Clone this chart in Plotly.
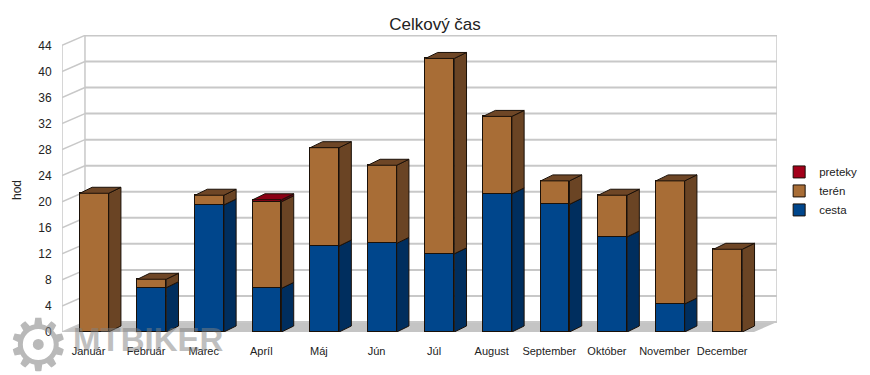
import plotly.graph_objects as go

months = ["Január", "Február", "Marec", "Apríl", "Máj", "Jún", "Júl",
          "August", "September", "Október", "November", "December"]
cesta = [0, 6.8, 19.5, 6.7, 13.2, 13.6, 12.0, 21.2, 19.6, 14.6, 4.3, 0]
teren = [21.3, 1.3, 1.5, 13.3, 15.1, 12.0, 30.0, 11.9, 3.6, 6.4, 18.9, 12.7]
preteky = [0, 0, 0, 0.3, 0, 0, 0, 0, 0, 0, 0, 0]
y_ticks = [0, 4, 8, 12, 16, 20, 24, 28, 32, 36, 40, 44]

series = [
    ("cesta", cesta, "#00468c", "#002e5e", "#003a72"),
    ("terén", teren, "#a86d36", "#6a4424", "#6e4626"),
    ("preteky", preteky, "#a3001a", "#6e0010", "#8a0014"),
]

# geometry (data units)
BAR_SHIFT = 0.06
BAR_W = 0.5
SDX, SDY = 0.213, 0.92       # bar depth
DX, DY = 0.399, 1.535        # wall depth
XMIN, XMAX = -0.5, 11.913
YMAX = 45.6

fig = go.Figure()

xs = [i + BAR_SHIFT for i in range(len(months))]
for name, vals, col, _, _ in series:
    fig.add_trace(go.Bar(
        x=xs, y=vals, name=name, width=BAR_W,
        marker=dict(color=col, line=dict(color="#1a1008", width=1)),
    ))

# side and top faces
base = [0.0] * len(months)
tops = [c + t + p for c, t, p in zip(cesta, teren, preteky)]
for name, vals, col, side_col, top_col in series:
    sx, sy, tx, ty = [], [], [], []
    for i, v in enumerate(vals):
        if v <= 0:
            continue
        b = base[i]
        t = b + v
        x0 = xs[i] - BAR_W / 2
        x1 = xs[i] + BAR_W / 2
        sx += [x1, x1 + SDX, x1 + SDX, x1, x1, None]
        sy += [b, b + SDY, t + SDY, t, b, None]
        if abs(t - tops[i]) < 1e-9:
            tx += [x0, x0 + SDX, x1 + SDX, x1, x0, None]
            ty += [t, t + SDY, t + SDY, t, t, None]
        base[i] = t
    fig.add_trace(go.Scatter(x=sx, y=sy, mode="lines", fill="toself",
                             fillcolor=side_col, line=dict(color="#1a1008", width=1),
                             showlegend=False, hoverinfo="skip"))
    if tx:
        fig.add_trace(go.Scatter(x=tx, y=ty, mode="lines", fill="toself",
                                 fillcolor=top_col, line=dict(color="#1a1008", width=1),
                                 showlegend=False, hoverinfo="skip"))

shapes = []
grid_col = "#c8c8c8"
# floor
shapes.append(dict(type="path", xref="x", yref="y", layer="below",
                   path=f"M {XMIN},0 L {XMAX - DX},0 L {XMAX},{DY} L {XMIN + DX},{DY} Z",
                   fillcolor="#c4c4c4", line=dict(width=0)))
for v in y_ticks:
    shapes.append(dict(type="line", xref="x", yref="y", layer="below",
                       x0=XMIN + DX, x1=XMAX, y0=v + DY, y1=v + DY,
                       line=dict(color=grid_col, width=2)))
    shapes.append(dict(type="line", xref="x", yref="y", layer="below",
                       x0=XMIN, x1=XMIN + DX, y0=v, y1=v + DY,
                       line=dict(color=grid_col, width=1.5)))
for xv, y0 in [(XMIN, 0), (XMIN + DX, DY), (XMAX, DY)]:
    shapes.append(dict(type="line", xref="x", yref="y", layer="below",
                       x0=xv, x1=xv, y0=y0, y1=y_ticks[-1] + (DY if y0 else 0),
                       line=dict(color=grid_col, width=1.5)))

fig.update_layout(
    width=870, height=375,
    margin=dict(l=62, r=93, t=35, b=43, autoexpand=False),
    paper_bgcolor="white", plot_bgcolor="white",
    barmode="stack", bargap=0,
    font=dict(family="Liberation Sans, Arial, sans-serif", color="#222222"),
    title=dict(text="Celkový čas", x=0.5, xanchor="center", y=0.936, yanchor="middle",
               font=dict(size=17, color="#222222")),
    showlegend=True,
    legend=dict(x=1.003, xanchor="left", y=0.475, yanchor="middle",
                font=dict(size=11.5, color="#222222"), itemwidth=30,
                bgcolor="rgba(0,0,0,0)", tracegroupgap=0),
    shapes=shapes,
    xaxis=dict(range=[XMIN, XMAX], tickvals=[i - 0.04 for i in range(len(months))],
               ticktext=months, showgrid=False, zeroline=False, showline=False,
               ticks="outside", ticklen=9, tickcolor="rgba(0,0,0,0)",
               tickfont=dict(size=11, color="#222222")),
    yaxis=dict(range=[0, YMAX], tickvals=y_ticks, showgrid=False, zeroline=False,
               showline=False, ticks="outside", ticklen=7, tickcolor="rgba(0,0,0,0)",
               tickfont=dict(size=12, color="#222222")),
    annotations=[
        dict(text="hod", xref="paper", yref="paper", x=-0.063, y=0.478,
             xanchor="center", yanchor="middle",
             textangle=-90, showarrow=False, font=dict(size=12, color="#222222")),
        dict(text="⚙", xref="paper", yref="paper", x=-0.033, y=-0.045,
             xanchor="center", yanchor="middle", showarrow=False, opacity=0.55,
             font=dict(size=72, color="#808080", family="DejaVu Sans")),
        dict(text="<b>MTBIKER</b>", xref="paper", yref="paper", x=0.012, y=-0.025,
             xanchor="left", yanchor="middle", showarrow=False, opacity=0.5,
             font=dict(size=33, color="#808080", family="Liberation Sans")),
    ],
)

fig.write_html("out.html", config={"displayModeBar": False},
               post_script="document.body.style.margin='0';")
